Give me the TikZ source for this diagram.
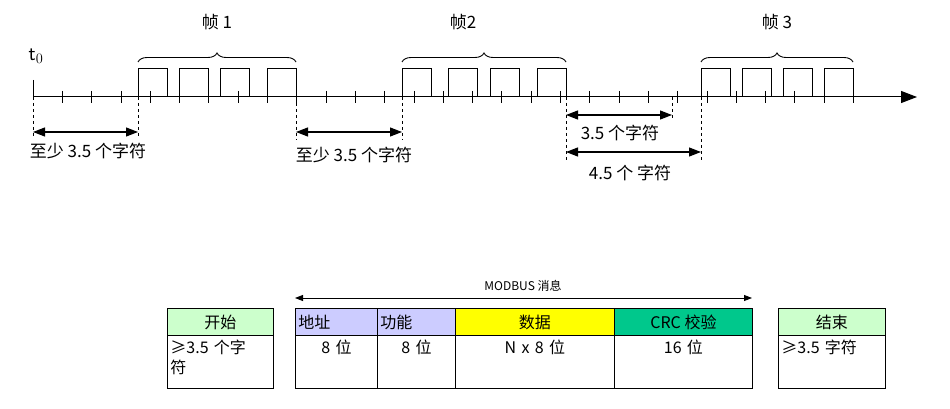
\documentclass[tikz,border=0pt]{standalone}
\usepackage{fontspec}
\setmainfont{Noto Sans CJK SC}
\usetikzlibrary{arrows.meta,decorations.pathreplacing}
\definecolor{cgreen}{RGB}{204,255,204}
\definecolor{clav}{RGB}{204,204,255}
\definecolor{cyel}{RGB}{255,255,0}
\definecolor{cteal}{RGB}{0,200,140}
\begin{document}
\begin{tikzpicture}[x=1pt,y=-1pt,
  lbl/.style={font=\fontsize{17}{19}\selectfont,inner sep=1pt},
  dline/.style={dashed,line width=0.8pt},
  dim/.style={{Triangle[length=12pt,width=9pt]}-{Triangle[length=12pt,width=9pt]},line width=1.1pt},
  pulse/.style={line width=0.9pt},
  brc/.style={decorate,decoration={brace,amplitude=9pt},line width=0.9pt},
  cell/.style={draw,line width=0.9pt,anchor=north west,minimum height=27pt,inner sep=2pt,font=\fontsize{16}{18}\selectfont},
  bcell/.style={draw,line width=0.9pt,anchor=north west,minimum height=53pt,inner sep=2pt,font=\fontsize{16}{20}\selectfont,text depth=30pt,align=left}]
\useasboundingbox (0,0) rectangle (950,409);
% axis
\coordinate (o) at (33,97);
\coordinate (e) at (917,97);
\draw[line width=1pt,-{Triangle[length=16pt,width=12pt]}] (o) -- (e);
\draw[line width=1pt] (33,80) -- (o);
\node[font=\fontsize{21}{23}\selectfont\sffamily] (t0) at (36,56) {t$_0$};
\foreach \k in {1,...,28} \draw[line width=0.8pt] ({33+29.3*\k},91) -- ({33+29.3*\k},103);
% pulses
\foreach \a in {138,179,220,267, 402,448,490,537, 701,742,783,824}
  \draw[pulse] (\a,97) -- (\a,68) -- (\a+29,68) -- (\a+29,97);
% braces
\draw[brc] (138,62) -- (296,62);
\draw[brc] (402,62) -- (566,62);
\draw[brc] (701,62) -- (853,62);
\node[lbl] (f1) at (217,22) {帧 1};
\node[lbl] (f2) at (463,22) {帧2};
\node[lbl] (f3) at (777,22) {帧 3};
% dashed
\coordinate (d1) at (33,137); \coordinate (d2) at (138,137);
\coordinate (d3) at (296,140); \coordinate (d4) at (402,140);
\coordinate (d5) at (566,160); \coordinate (d6) at (672,120);
\coordinate (d7) at (701,160);
\draw[dline] (33,97) -- (d1);
\draw[dline] (138,97) -- (d2);
\draw[dline] (296,97) -- (d3);
\draw[dline] (402,97) -- (d4);
\draw[dline] (566,97) -- (d5);
\draw[dline] (672,97) -- (d6);
\draw[dline] (701,97) -- (d7);
\coordinate (a1) at (33,132); \coordinate (a2) at (138,132);
\coordinate (a3) at (296,132); \coordinate (a4) at (402,132);
\coordinate (a5) at (566,115); \coordinate (a6) at (672,115);
\coordinate (a7) at (566,152); \coordinate (a8) at (701,152);
\draw[dim] (a1) -- (a2);
\draw[dim] (a3) -- (a4);
\draw[dim] (a5) -- (a6);
\draw[dim] (a7) -- (a8);
\node[lbl] (l1) at (88,151) {至少 3.5 个字符};
\node[lbl] (l2) at (354,155) {至少 3.5 个字符};
\node[lbl] (l3) at (620,133) {3.5 个字符};
\node[lbl] (l4) at (630,173) {4.5 个 字符};
% table
\coordinate (m1) at (295,298); \coordinate (m2) at (752,298);
\draw[{Triangle[length=8pt,width=6pt]}-{Triangle[length=8pt,width=6pt]},line width=0.9pt] (m1) -- (m2);
\node[font=\fontsize{12}{14}\selectfont] (mt) at (523,286) {MODBUS 消息};
\node[cell,fill=cgreen,minimum width=106pt] (h0) at (167,308) {开始};
\node[cell,fill=clav,minimum width=82pt,align=left,text width=76pt] (h1) at (295,308) {地址};
\node[cell,fill=clav,minimum width=78pt,text width=72pt] (h2) at (377,308) {功能};
\node[cell,fill=cyel,minimum width=159pt] (h3) at (455,308) {数据};
\node[cell,fill=cteal,minimum width=138pt] (h4) at (614,308) {CRC 校验};
\node[cell,fill=cgreen,minimum width=107pt] (h5) at (778,308) {结束};
\node[bcell,minimum width=106pt,text width=100pt] (b0) at (167,335) {≥3.5 个字\\符};
\node[bcell,minimum width=82pt,text width=76pt,align=center] (b1) at (295,335) {8 位};
\node[bcell,minimum width=78pt,text width=72pt,align=center] (b2) at (377,335) {8 位};
\node[bcell,minimum width=159pt,text width=153pt,align=center] (b3) at (455,335) {N x 8 位};
\node[bcell,minimum width=138pt,text width=132pt,align=center] (b4) at (614,335) {16 位};
\node[bcell,minimum width=107pt,text width=101pt] (b5) at (778,335) {≥3.5 字符};
\end{tikzpicture}
\end{document}
